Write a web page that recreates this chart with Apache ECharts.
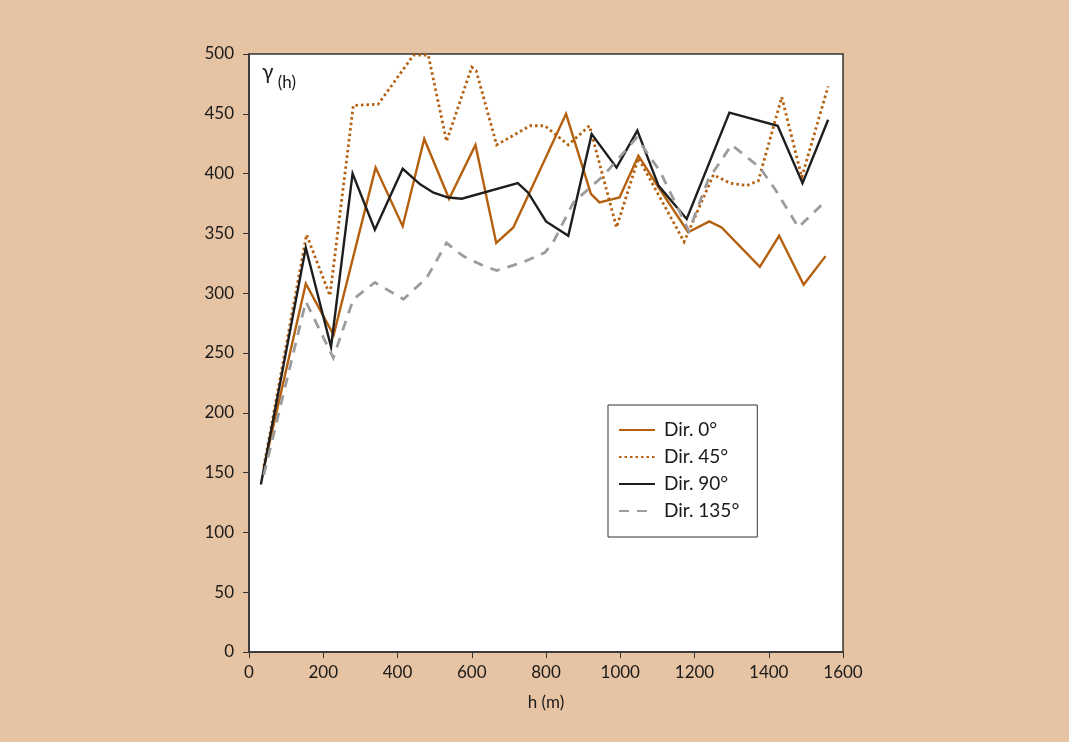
<!DOCTYPE html>
<html><head><meta charset="utf-8">
<script src="https://cdn.jsdelivr.net/npm/echarts@6/dist/echarts.min.js"></script>
<style>html,body{margin:0;padding:0;background:#E6C3A3;}#c{width:1069px;height:742px;}</style>
</head><body><div id="c"></div>
<script>
const xTicks = [0,200,400,600,800,1000,1200,1400,1600];
const yTicks = [0,50,100,150,200,250,300,350,400,450,500];
const names = ['Dir. 0°','Dir. 45°','Dir. 90°','Dir. 135°'];
const dir0 = [[40,154],[153,308],[228,265],[341,405],[414,356],[472,429],[539,379],[610,424],[666,342],[712,355],[854,450],[921,383],[944,376],[998,380],[1049,415],[1100,390],[1183,351],[1240,360],[1273,355],[1376,322],[1428,348],[1494,307],[1553,331]];
const dir45 = [[40,155],[155,349],[218,298],[281,457],[348,458],[443,499],[483,499],[532,427],[600,489],[612,486],[667,424],[757,440],[797,440],[860,424],[917,440],[990,355],[1049,413],[1172,343],[1251,399],[1296,392],[1341,390],[1372,394],[1435,464],[1489,397],[1560,473]];
const dir90 = [[32,140],[153,338],[221,255],[279,400],[339,353],[414,404],[461,391],[497,384],[537,380],[573,379],[724,392],[752,384],[800,360],[860,348],[923,433],[990,405],[1046,436],[1103,390],[1179,362],[1294,451],[1424,440],[1491,392],[1560,445]];
const dir135 = [[40,148],[153,293],[227,246],[281,295],[339,309],[416,295],[479,313],[532,342],[577,331],[631,323],[667,319],[739,326],[797,334],[820,343],[874,376],[954,398],[1044,430],[1107,402],[1185,352],[1237,395],[1300,424],[1376,405],[1417,387],[1480,355],[1556,378]];

const orange = '#B5600E', black = '#1e1e1e', grey = '#9C9C9C';
const font = 'Lato, "Open Sans", sans-serif';
const txt = '#1a1a1a';
const chart = echarts.init(document.getElementById('c'));
function ser(name, data, color, type, width) {
  return {name, type:'line', data, symbol:'none', showSymbol:false, animation:false,
    lineStyle:{color, width, type, cap:'butt', join:'miter'}, itemStyle:{color}};
}
chart.setOption({
  backgroundColor:'#E6C3A3',
  animation:false,
  grid:{left:249, right:226, top:54, bottom:90, show:true, backgroundColor:'#fff', borderColor:'#333', borderWidth:1.5},
  xAxis:{type:'value', min:0, max:1600, interval:200,
    name:'h (m)', nameLocation:'middle', nameGap:42, nameTextStyle:{fontFamily:font, fontSize:17, color:txt},
    axisLine:{lineStyle:{color:'#333', width:1.5}}, axisTick:{show:true, length:6, lineStyle:{color:'#333'}},
    axisLabel:{fontFamily:font, fontSize:17, color:txt, margin:12, formatter:v=>String(v)}, splitLine:{show:false}},
  yAxis:{type:'value', min:0, max:500, interval:50,
    axisLine:{show:true, lineStyle:{color:'#333', width:1.5}}, axisTick:{show:true, length:6, lineStyle:{color:'#333'}},
    axisLabel:{fontFamily:font, fontSize:17, color:txt, margin:15, formatter:v=>String(v)}, splitLine:{show:false}},
  legend:{orient:'vertical', left:608, top:405, data:names,
    backgroundColor:'#fff', borderColor:'#333', borderWidth:1, borderRadius:0,
    padding:[15,18,16,10], itemWidth:36, itemHeight:14, itemGap:7,
    itemStyle:{opacity:0},
    textStyle:{fontFamily:font, fontSize:19, lineHeight:20, color:txt, padding:[0,0,0,4]}},
  graphic:[{type:'text', left:262, top:62, style:{
    text:'{g|γ}{h| (h)}', rich:{g:{fontFamily:font, fontSize:21, fill:txt, verticalAlign:'top'}, h:{fontFamily:font, fontSize:17, fill:txt, padding:[12,0,0,0]}}}}],
  series:[
    ser(names[0], dir0, orange, 'solid', 2.4),
    ser(names[1], dir45, orange, [2.5,3], 2.8),
    ser(names[2], dir90, black, 'solid', 2.4),
    ser(names[3], dir135, grey, [10,8], 2.8)
  ]
});
</script></body></html>
